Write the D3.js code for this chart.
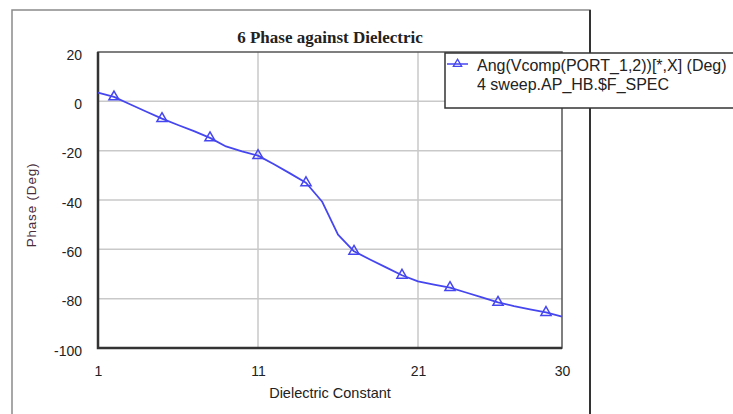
<!DOCTYPE html>
<html>
<head>
<meta charset="utf-8">
<script src="https://cdn.jsdelivr.net/npm/d3@7"></script>
<style>
  body { margin: 0; background: #fff; }
  svg { display: block; }
</style>
</head>
<body>
<div id="chart"></div>
<script>
// valeurs
const dielectric = [1, 2, 3, 4, 5, 6, 7, 8, 9, 10, 11, 12, 13, 14, 15, 16, 17, 18, 19, 20, 21, 22, 23, 24, 25, 26, 27, 28, 29, 30];
const phase = [3.5, 1.8, -1.2, -4.1, -7.0, -9.6, -12.1, -14.8, -18.3, -20.3, -22.0, -25.5, -29.2, -33.0, -40.6, -54.0, -60.8, -64.1, -67.3, -70.5, -73.0, -74.3, -75.5, -77.5, -79.5, -81.5, -83.0, -84.3, -85.6, -87.3];
const markerX = [2, 5, 8, 11, 14, 17, 20, 23, 26, 29];
const xTicks = [1, 11, 21, 30];
const yTicks = [20, 0, -20, -40, -60, -80, -100];
const legendLines = ["Ang(Vcomp(PORT_1,2))[*,X] (Deg)", "4 sweep.AP_HB.$F_SPEC"];

const width = 733, height = 414;
const plot = { left: 98, top: 52, right: 562, bottom: 348 };
const blue = "#4646f0";
const sans = "Liberation Sans, Arial, sans-serif";

const svg = d3.select("#chart").append("svg")
    .attr("width", width)
    .attr("height", height);

// cadre extérieur
svg.append("rect")
    .attr("x", 12).attr("y", 10)
    .attr("width", 578).attr("height", 420)
    .attr("fill", "none")
    .attr("stroke", "#8a8a8a")
    .attr("stroke-width", 1.5);
svg.append("line")
    .attr("x1", 590).attr("x2", 590).attr("y1", 10).attr("y2", 414)
    .attr("stroke", "#333").attr("stroke-width", 2);

const x = d3.scaleLinear().domain([1, 30]).range([plot.left, plot.right]);
const y = d3.scaleLinear().domain([-100, 20]).range([plot.bottom, plot.top]);

// grille
svg.append("g").selectAll("line")
    .data(yTicks.filter(d => d > -100 && d < 20))
    .join("line")
    .attr("x1", plot.left).attr("x2", plot.right)
    .attr("y1", d => y(d)).attr("y2", d => y(d))
    .attr("stroke", "#c9c9c9").attr("stroke-width", 1.5);
svg.append("g").selectAll("line")
    .data(xTicks.filter(d => d > 1 && d < 30))
    .join("line")
    .attr("y1", plot.top).attr("y2", plot.bottom)
    .attr("x1", d => x(d)).attr("x2", d => x(d))
    .attr("stroke", "#c9c9c9").attr("stroke-width", 1.5);

// bord du tracé
svg.append("rect")
    .attr("x", plot.left).attr("y", plot.top)
    .attr("width", plot.right - plot.left).attr("height", plot.bottom - plot.top)
    .attr("fill", "none").attr("stroke", "#555").attr("stroke-width", 1.5);
svg.append("path")
    .attr("d", `M${plot.left},${plot.top}V${plot.bottom}H${plot.right}`)
    .attr("fill", "none").attr("stroke", "#333").attr("stroke-width", 2.5);

// axes (étiquettes seulement), tiret simple comme sur l'original
const yAxis = d3.axisLeft(y).tickValues(yTicks).tickSize(0).tickPadding(16)
    .tickFormat(d => String(d));
svg.append("g")
    .attr("transform", `translate(${plot.left},0)`)
    .call(yAxis)
    .call(g => g.select(".domain").remove())
    .call(g => g.selectAll("text")
        .attr("font-family", sans)
        .attr("font-size", 14).attr("fill", "#222").attr("dy", "0.5em"));

const xAxis = d3.axisBottom(x).tickValues(xTicks).tickSize(0).tickPadding(18)
    .tickFormat(d => String(d));
svg.append("g")
    .attr("transform", `translate(0,${plot.bottom})`)
    .call(xAxis)
    .call(g => g.select(".domain").remove())
    .call(g => g.selectAll("text")
        .attr("font-family", sans)
        .attr("font-size", 14).attr("fill", "#222"));

// titres
svg.append("text")
    .attr("x", (plot.left + plot.right) / 2).attr("y", 43)
    .attr("text-anchor", "middle")
    .attr("font-family", "Liberation Serif, Times New Roman, serif")
    .attr("font-weight", "bold").attr("font-size", 17)
    .attr("fill", "#222")
    .text("6 Phase against Dielectric");

svg.append("text")
    .attr("x", (plot.left + plot.right) / 2).attr("y", 398)
    .attr("text-anchor", "middle")
    .attr("font-family", sans)
    .attr("font-size", 14.5).attr("fill", "#222")
    .text("Dielectric Constant");

svg.append("text")
    .attr("transform", `translate(36,205) rotate(-90)`)
    .attr("text-anchor", "middle")
    .attr("font-family", sans)
    .attr("font-size", 13.5).attr("letter-spacing", 0.8)
    .attr("fill", "#4a2c3a")
    .text("Phase (Deg)");

// courbe
const data = dielectric.map((d, i) => ({ x: d, y: phase[i] }));
const line = d3.line()
    .x(d => x(d.x))
    .y(d => y(d.y));

svg.append("path")
    .datum(data)
    .attr("d", line)
    .attr("fill", "none")
    .attr("stroke", blue)
    .attr("stroke-width", 1.8)
    .attr("stroke-linejoin", "round");

const tri = d3.symbol().type(d3.symbolTriangle).size(45);
svg.append("g").selectAll("path")
    .data(data.filter(d => markerX.includes(d.x)))
    .join("path")
    .attr("d", tri)
    .attr("transform", d => `translate(${x(d.x)},${y(d.y)})`)
    .attr("fill", "none")
    .attr("stroke", blue)
    .attr("stroke-width", 1.5);

// légende
const legend = svg.append("g").attr("transform", "translate(445,53)");
legend.append("rect")
    .attr("x", 0).attr("y", 0)
    .attr("width", 300).attr("height", 55)
    .attr("fill", "#fff")
    .attr("stroke", "#333").attr("stroke-width", 1.5);
legend.append("line")
    .attr("x1", 2).attr("x2", 23).attr("y1", 11).attr("y2", 11)
    .attr("stroke", blue).attr("stroke-width", 1.5);
legend.append("path")
    .attr("d", d3.symbol().type(d3.symbolTriangle).size(30))
    .attr("transform", "translate(12.5,11)")
    .attr("fill", "none").attr("stroke", blue).attr("stroke-width", 1.3);
legend.selectAll("text.leg")
    .data(legendLines)
    .join("text")
    .attr("class", "leg")
    .attr("x", 32)
    .attr("y", (d, i) => 18 + i * 19)
    .attr("font-family", sans)
    .attr("font-size", 16).attr("fill", "#222")
    .text(d => d);
</script>
</body>
</html>
